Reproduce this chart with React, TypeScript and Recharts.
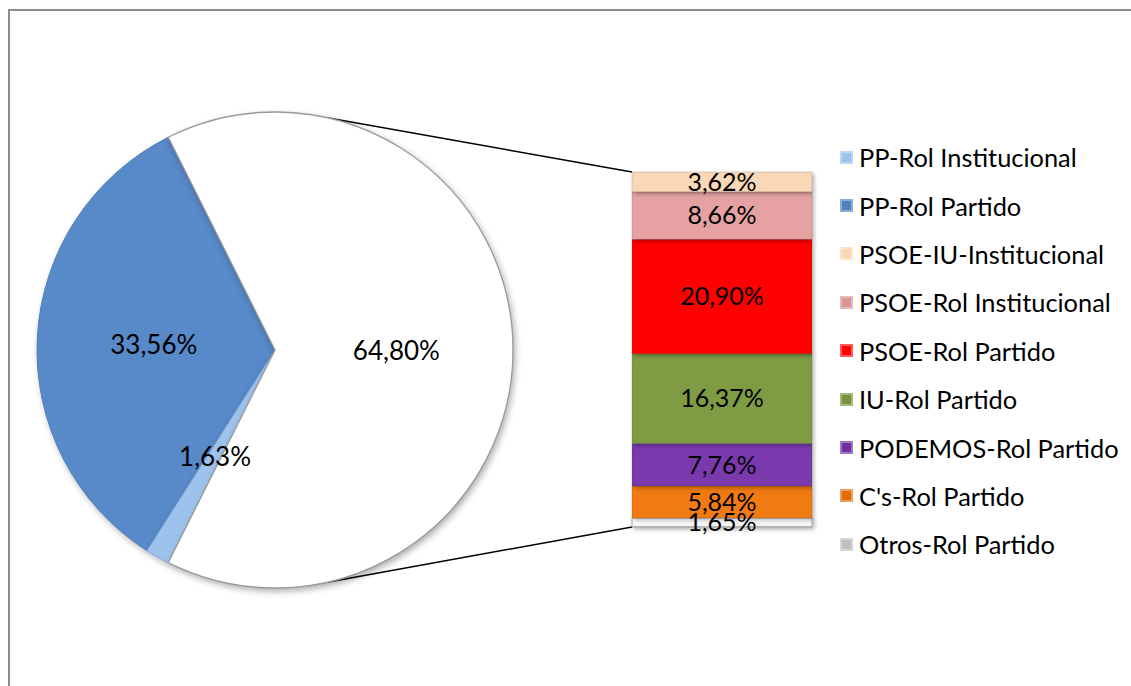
import React from 'react';
import { PieChart, Pie, Cell, BarChart, Bar, XAxis, YAxis, LabelList } from 'recharts';

// ---- data ----
const pieNames = ['PP-Rol Partido', 'PP-Rol Institucional', 'Resto'];
const pieValues = [33.56, 1.63, 64.8];
const pieColors = ['#5889C8', '#9DC2EC', '#FFFFFF'];

const barNames = [
  'Otros-Rol Partido',
  "C's-Rol Partido",
  'PODEMOS-Rol Partido',
  'IU-Rol Partido',
  'PSOE-Rol Partido',
  'PSOE-Rol Institucional',
  'PSOE-IU-Institucional',
];
const barValues = [1.65, 5.84, 7.76, 16.37, 20.9, 8.66, 3.62];
const barColors = ['#F4F4F4', '#F27A12', '#7A3AAE', '#7F9C45', '#FF0000', '#E6A2A2', '#FAD7B6'];

const legendNames = [
  'PP-Rol Institucional',
  'PP-Rol Partido',
  'PSOE-IU-Institucional',
  'PSOE-Rol Institucional',
  'PSOE-Rol Partido',
  'IU-Rol Partido',
  'PODEMOS-Rol Partido',
  "C's-Rol Partido",
  'Otros-Rol Partido',
];
const legendColors = ['#9DC2EC', '#4F81BD', '#FAD7B6', '#D99594', '#FF0000', '#77933C', '#7030A0', '#E36C09', '#BFBFBF'];

// ---- layout ----
const W = 1131;
const H = 686;
const PIE_CX = 275;
const PIE_CY = 350;
const PIE_R = 238;
const BAR_LEFT = 632;
const BAR_RIGHT = 812;
const BAR_TOP = 172;
const BAR_BOTTOM = 527;
const FONT = 'Lato, "Open Sans", sans-serif';
const FS_PIE = 26;
const FS_BAR = 25;
const FS_LEG = 25.4;

const fmt = (v: number) => v.toFixed(2).replace('.', ',') + '%';

const restShare = pieValues[2];
const pieStart = (restShare / 100) * 180;

const barRow: Record<string, number | string> = { cat: 'Resto' };
barValues.forEach((v, i) => {
  barRow['b' + i] = v;
});
const barData = [barRow];

const RAD = Math.PI / 180;

const PieLabel = (props: any) => {
  const { cx, cy, midAngle, outerRadius, value } = props;
  const r = outerRadius * 0.51;
  const x = cx + r * Math.cos(-midAngle * RAD);
  const y = cy + r * Math.sin(-midAngle * RAD);
  return (
    <text x={x} y={y} textAnchor="middle" dominantBaseline="central" fill="#000" fontSize={FS_PIE} fontFamily={FONT}>
      {fmt(value)}
    </text>
  );
};

const connAngle = 77;
const topPt = { x: PIE_CX + PIE_R * Math.cos(connAngle * RAD), y: PIE_CY - PIE_R * Math.sin(connAngle * RAD) };
const botPt = { x: PIE_CX + PIE_R * Math.cos(connAngle * RAD), y: PIE_CY + PIE_R * Math.sin(connAngle * RAD) };

export default function App() {
  return (
    <div style={{ position: 'fixed', left: 0, top: 0, width: W, height: H, overflow: 'hidden', background: '#fff' }}>
      <div
        style={{
          position: 'absolute',
          left: 8,
          top: 9,
          width: 3000,
          height: 3000,
          borderLeft: '2px solid #8C8C8C',
          borderTop: '2px solid #8C8C8C',
        }}
      />
      <svg width={W} height={H} style={{ position: 'absolute', left: 0, top: 0 }}>
        <line x1={topPt.x} y1={topPt.y} x2={BAR_LEFT} y2={BAR_TOP} stroke="#000" strokeWidth={1.5} />
        <line x1={botPt.x} y1={botPt.y} x2={BAR_LEFT} y2={BAR_BOTTOM} stroke="#000" strokeWidth={1.5} />
      </svg>
      <div style={{ position: 'absolute', left: 0, top: 0 }}>
        <PieChart width={600} height={H} margin={{ top: 0, right: 0, bottom: 0, left: 0 }}>
          <Pie
            data={pieNames.map((n, i) => ({ name: n, value: pieValues[i] }))}
            dataKey="value"
            nameKey="name"
            cx={PIE_CX}
            cy={PIE_CY}
            outerRadius={PIE_R}
            startAngle={pieStart}
            endAngle={pieStart + 360}
            label={PieLabel}
            labelLine={false}
            isAnimationActive={false}
          >
            {pieNames.map((n, i) => (
              <Cell
                key={n}
                fill={pieColors[i]}
                stroke={i === 2 ? '#9A9A9A' : i === 1 ? '#7FA9DA' : '#4E7EBB'}
                strokeWidth={i === 2 ? 1.3 : 1}
                style={{ filter: 'drop-shadow(2px 3px 3px rgba(0,0,0,0.3))' }}
              />
            ))}
          </Pie>
        </PieChart>
      </div>
      <div style={{ position: 'absolute', left: 0, top: 0 }}>
        <BarChart
          width={W}
          height={H}
          data={barData}
          margin={{ left: BAR_LEFT, right: W - BAR_RIGHT, top: BAR_TOP, bottom: H - BAR_BOTTOM }}
          barCategoryGap={0}
          barGap={0}
        >
          <defs>
            {barColors.map((c, i) => (
              <linearGradient key={i} id={'bev' + i} x1="0" y1="0" x2="0" y2="1">
                <stop offset="0" stopColor={i === 0 ? '#ffffff' : c} stopOpacity={1} />
                <stop offset="0.12" stopColor={i === 0 ? '#ffffff' : c} stopOpacity={1} />
                <stop offset="0.88" stopColor={c} stopOpacity={1} />
                <stop offset="1" stopColor={i === 0 ? '#9A9A9A' : c} stopOpacity={1} />
              </linearGradient>
            ))}
          </defs>
          <XAxis dataKey="cat" hide />
          <YAxis hide domain={[0, 'dataMax']} />
          {barValues.map((v, i) => (
            <Bar
              key={i}
              dataKey={'b' + i}
              name={barNames[i]}
              stackId="s"
              fill={`url(#bev${i})`}
              stroke={i === 0 ? '#A6A6A6' : 'rgba(0,0,0,0.12)'}
              strokeWidth={1}
              isAnimationActive={false}
              style={{ filter: 'drop-shadow(2px 2px 2px rgba(0,0,0,0.3))' }}
            >
              <LabelList
                dataKey={'b' + i}
                position="center"
                formatter={(val: any) => fmt(Number(val))}
                fill="#000"
                fontSize={FS_BAR}
                fontFamily={FONT}
              />
            </Bar>
          ))}
        </BarChart>
      </div>
      <div style={{ position: 'absolute', left: 840, top: 133, fontFamily: FONT, fontSize: FS_LEG, color: '#000' }}>
        {legendNames.map((n, i) => (
          <div key={n} style={{ display: 'flex', alignItems: 'center', height: 48.4, lineHeight: '48px' }}>
            <span
              style={{
                display: 'inline-block',
                width: 13,
                height: 13,
                background: legendColors[i],
                boxShadow: 'inset 0 0 0 2px rgba(255,255,255,0.35)',
                marginRight: 6,
              }}
            />
            <span style={{ whiteSpace: 'nowrap' }}>{n}</span>
          </div>
        ))}
      </div>
    </div>
  );
}
